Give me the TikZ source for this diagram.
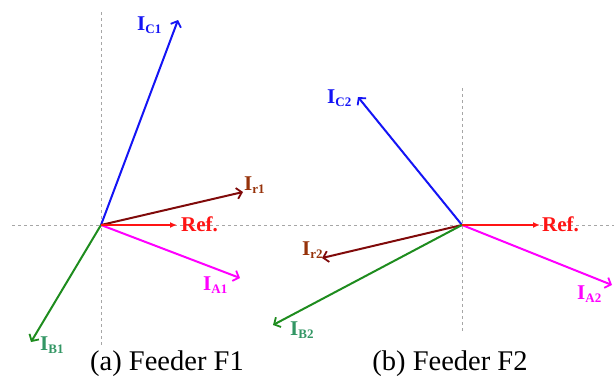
\documentclass[tikz,border=0pt]{standalone}
\usepackage{fontspec}
\setmainfont{Liberation Serif}
\usetikzlibrary{arrows.meta}
\definecolor{cblue}{RGB}{20,20,245}
\definecolor{cmaroon}{RGB}{128,10,10}
\definecolor{cbrown}{RGB}{150,50,10}
\definecolor{cmag}{RGB}{255,0,255}
\definecolor{cgreen}{RGB}{30,140,30}
\definecolor{cteal}{RGB}{50,150,100}
\definecolor{cred}{RGB}{255,20,20}
\tikzset{
  axis/.style={draw=gray!70, dash pattern=on 3pt off 3pt, line width=0.8pt},
  phasor/.style={line width=2pt, -{Straight Barb[length=5pt,width=11pt,line width=1.8pt]}},
  refarrow/.style={line width=2pt, draw=cred, -{Latex[length=7pt,width=6pt]}},
  lbl/.style={font=\fontsize{21}{22}\selectfont\bfseries, inner sep=0pt},
  captxt/.style={font=\fontsize{28.5}{30}\selectfont, inner sep=0pt}
}
\newcommand{\sbs}[1]{\textsubscript{\fontsize{13}{13}\selectfont #1}}
\begin{document}
\begin{tikzpicture}[x=1pt,y=-1pt]
\useasboundingbox (0,0) rectangle (614,381);
% axes
\coordinate (O1) at (101,225);
\coordinate (O2) at (462,225);
\coordinate (h1) at (12,225);
\coordinate (h2) at (614,225);
\coordinate (v1t) at (101,12);
\coordinate (v1b) at (101,345);
\coordinate (v2t) at (462,88);
\coordinate (v2b) at (462,333);
\draw[axis] (h1) -- (h2);
\draw[axis] (v1t) -- (v1b);
\draw[axis] (v2t) -- (v2b);
% feeder 1 tips
\coordinate (C1) at (178,20);
\coordinate (R1) at (243,192);
\coordinate (F1) at (177,225);
\coordinate (A1) at (240,278);
\coordinate (B1) at (31,342);
% feeder 2 tips
\coordinate (C2) at (358,97);
\coordinate (F2) at (540,225);
\coordinate (A2) at (612,285);
\coordinate (R2) at (322,258);
\coordinate (B2) at (273,325);
% phasors 1
\draw[phasor, cblue] (O1) -- (C1);
\draw[phasor, cmaroon] (O1) -- (R1);
\draw[phasor, cmag] (O1) -- (A1);
\draw[phasor, cgreen] (O1) -- (B1);
\draw[refarrow] (O1) -- (F1);
% phasors 2
\draw[phasor, cblue] (O2) -- (C2);
\draw[phasor, cmaroon] (O2) -- (R2);
\draw[phasor, cmag] (O2) -- (A2);
\draw[phasor, cgreen] (O2) -- (B2);
\draw[refarrow] (O2) -- (F2);
% labels 1
\node[lbl, text=cblue, anchor=west] (lC1) at (137,25) {I\sbs{C1}};
\node[lbl, text=cbrown, anchor=west] (lR1) at (244,185) {I\sbs{r1}};
\node[lbl, text=cred, anchor=west] (lF1) at (181,224) {Ref.};
\node[lbl, text=cmag, anchor=west] (lA1) at (203,285) {I\sbs{A1}};
\node[lbl, text=cteal, anchor=west] (lB1) at (40,345) {I\sbs{B1}};
% labels 2
\node[lbl, text=cblue, anchor=west] (lC2) at (327,98) {I\sbs{C2}};
\node[lbl, text=cred, anchor=west] (lF2) at (542,224) {Ref.};
\node[lbl, text=cmag, anchor=west] (lA2) at (577,294) {I\sbs{A2}};
\node[lbl, text=cbrown, anchor=west] (lR2) at (302,250) {I\sbs{r2}};
\node[lbl, text=cteal, anchor=west] (lB2) at (290,330) {I\sbs{B2}};
% captions
\node[captxt] (capa) at (167,364) {(a) Feeder F1};
\node[captxt] (capb) at (450,364) {(b) Feeder F2};
\end{tikzpicture}
\end{document}
